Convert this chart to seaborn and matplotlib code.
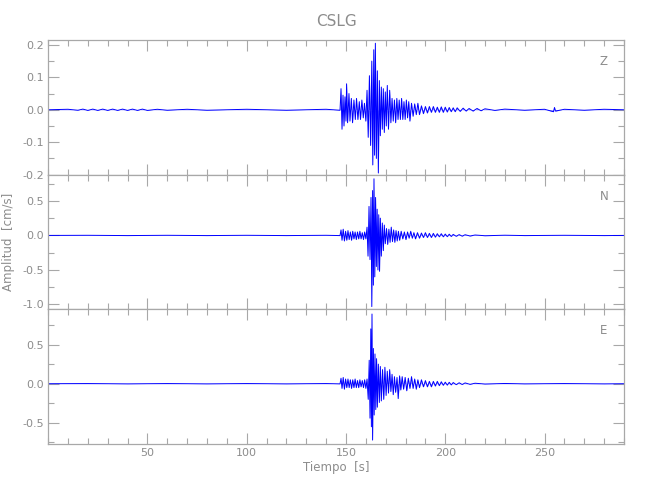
import numpy as np
import pandas as pd
import matplotlib
matplotlib.use("Agg")
import matplotlib.pyplot as plt
import seaborn as sns
from matplotlib.ticker import MultipleLocator

# station + components
station = "CSLG"
components = ["Z", "N", "E"]

# Z component: times [s] and peak amplitudes [cm/s]
z_time = [0, 10, 15, 17.5, 20, 22.5, 25, 27.5, 30, 32.5, 35, 37.5, 40, 42.5, 45, 47.5, 50, 55, 60, 70, 80, 100, 120, 140, 147,
          147.5, 148.0, 148.5, 149.0, 149.5, 150.0, 150.3, 150.8, 151.5, 152.0, 152.7, 153.3,
          154.0, 154.7, 155.3, 156.0, 156.7, 157.3, 158.0, 158.7, 159.3, 160.0, 160.6, 161.2,
          161.8, 162.4, 163.0, 163.5, 164.0, 164.4, 164.8, 165.3, 165.8, 166.3, 166.8, 167.3,
          167.8, 168.3, 168.8, 169.3, 169.8, 170.3, 170.8, 171.4, 172.0, 172.6, 173.2, 173.8,
          174.4, 175.0, 175.6, 176.2, 176.8, 177.4, 178.0, 178.6, 179.2, 179.8, 180.4, 181.0,
          181.6, 182.2, 183.0, 183.8, 184.6, 185.4, 186.2, 187.0, 188.0, 189.0, 190.0, 191.0,
          192.0, 193.0, 194.0, 195.0, 196.0, 197.0, 198.0, 199.0, 200.0, 201.0, 202.0, 203.0,
          204.0, 205.0, 206.0, 207.5, 209.0, 210.5, 212.0, 214.0, 216.0, 218.0, 220.0, 225.0,
          230.0, 240.0, 250.0, 254.5, 255.0, 255.5, 260.0, 270.0, 280.0, 290.0]
z_amp = [0, 0.0015, -0.0015, 0.002, -0.002, 0.002, -0.002, 0.002, -0.002, 0.002, -0.002, 0.002, -0.002, 0.002, -0.002, 0.002, -0.002, 0.0015, -0.0015, 0.0015, -0.0015, 0.0015, -0.0015, 0.0015, -0.0015,
         0.065, -0.060, 0.045, -0.050, 0.040, -0.035, 0.080, -0.040, 0.050, -0.035, 0.035, -0.040,
         0.030, -0.030, 0.035, -0.030, 0.025, -0.030, 0.030, -0.025, 0.020, -0.035, 0.060, -0.085,
         0.105, -0.110, 0.150, -0.170, 0.185, -0.140, 0.205, -0.150, 0.120, -0.195, 0.090, -0.080,
         0.070, -0.060, 0.065, -0.070, 0.055, -0.050, 0.075, -0.060, 0.060, -0.040, 0.035, -0.035,
         0.030, -0.040, 0.035, -0.030, 0.030, -0.030, 0.035, -0.030, 0.025, -0.030, 0.030, -0.025,
         0.025, -0.035, 0.020, -0.020, 0.018, -0.015, 0.020, -0.015, 0.012, -0.012, 0.010, -0.010,
         0.010, -0.008, 0.010, -0.008, 0.008, -0.008, 0.009, -0.008, 0.008, -0.007, 0.007, -0.006,
         0.006, -0.006, 0.006, -0.005, 0.005, -0.004, 0.004, -0.004, 0.004, -0.003, 0.003, -0.002,
         0.002, -0.0015, 0.0015, -0.006, 0.007, -0.004, 0.0015, -0.0015, 0.0015, 0]

# N component
n_time = [0, 20, 40, 60, 80, 100, 120, 140, 147,
          147.5, 148.0, 148.6, 149.2, 149.8, 150.4, 151.0, 151.6, 152.2, 152.8, 153.4, 154.0,
          154.6, 155.2, 155.8, 156.4, 157.0, 157.6, 158.2, 158.8, 159.4, 160.0, 160.6, 161.1,
          161.6, 162.1, 162.6, 163.0, 163.4, 163.8, 164.1, 164.5, 164.9, 165.3, 165.7, 166.1,
          166.5, 166.9, 167.3, 167.8, 168.3, 168.8, 169.3, 169.8, 170.4, 171.0, 171.6, 172.2,
          172.8, 173.4, 174.0, 174.6, 175.2, 175.8, 176.4, 177.0, 177.8, 178.6, 179.4, 180.2,
          181.0, 181.8, 182.6, 183.4, 184.2, 185.0, 186.0, 187.0, 188.0, 189.0, 190.0, 191.0,
          192.0, 193.0, 194.0, 195.0, 196.0, 197.0, 198.0, 199.0, 200.0, 201.0, 202.0, 203.0,
          204.0, 205.5, 207.0, 208.5, 210.0, 212.5, 215.0, 220.0, 230.0, 240.0, 260.0, 280.0, 290.0]
n_amp = [0, 0.002, -0.002, 0.002, -0.002, 0.002, -0.002, 0.002, -0.002,
         0.08, -0.07, 0.09, -0.08, 0.06, -0.07, 0.07, -0.06, 0.05, -0.07, 0.06, -0.05,
         0.05, -0.06, 0.05, -0.05, 0.06, -0.05, 0.04, -0.06, 0.05, -0.05, 0.12, -0.30,
         0.42, -0.35, 0.55, -1.03, 0.65, -0.72, 0.82, -0.60, 0.55, -0.45, 0.38, -0.50,
         0.30, -0.52, 0.25, -0.30, 0.18, -0.22, 0.15, -0.12, 0.10, -0.13, 0.09, -0.10,
         0.12, -0.09, 0.08, -0.10, 0.07, -0.08, 0.06, -0.07, 0.06, -0.05, 0.05, -0.06,
         0.05, -0.04, 0.06, -0.04, 0.04, -0.05, 0.04, -0.04, 0.035, -0.03, 0.04, -0.03,
         0.03, -0.03, 0.03, -0.025, 0.025, -0.02, 0.025, -0.02, 0.02, -0.018, 0.018, -0.015,
         0.015, -0.012, 0.012, -0.010, 0.010, -0.008, 0.006, -0.004, 0.003, -0.002, 0.002, -0.002, 0]

# E component
e_time = [0, 20, 40, 60, 80, 100, 120, 140, 147,
          147.5, 148.0, 148.6, 149.2, 149.8, 150.4, 151.0, 151.6, 152.2, 152.8, 153.4, 154.0,
          154.6, 155.2, 155.8, 156.4, 157.0, 157.6, 158.2, 158.8, 159.4, 160.0, 160.6, 161.2,
          161.7, 162.1, 162.5, 162.8, 163.1, 163.4, 163.8, 164.2, 164.6, 165.0, 165.4, 165.8,
          166.3, 166.8, 167.3, 167.8, 168.4, 169.0, 169.6, 170.2, 170.8, 171.4, 172.0, 172.6,
          173.2, 173.8, 174.4, 175.0, 175.7, 176.3, 177.0, 177.6, 178.3, 179.0, 179.8, 180.6,
          181.4, 182.2, 183.0, 183.8, 184.6, 185.4, 186.2, 187.0, 188.0, 189.0, 190.0, 191.0,
          192.0, 193.0, 194.0, 195.0, 196.0, 197.0, 198.0, 199.0, 200.0, 201.0, 202.0, 203.0,
          204.0, 205.5, 207.0, 208.5, 210.0, 212.5, 215.0, 220.0, 230.0, 240.0, 260.0, 280.0, 290.0]
e_amp = [0, 0.002, -0.002, 0.002, -0.002, 0.002, -0.002, 0.002, -0.002,
         0.07, -0.06, 0.08, -0.07, 0.06, -0.05, 0.06, -0.05, 0.05, -0.06, 0.05, -0.05,
         0.06, -0.05, 0.04, -0.05, 0.05, -0.04, 0.04, -0.05, 0.05, -0.06, 0.06, -0.20,
         0.30, -0.44, 0.70, -0.55, 0.89, -0.72, 0.45, -0.40, 0.38, -0.33, 0.32, -0.30,
         0.25, -0.24, 0.22, -0.22, 0.18, -0.20, 0.21, -0.15, 0.16, -0.12, 0.18, -0.10,
         0.12, -0.14, 0.09, -0.11, 0.08, -0.19, 0.10, -0.08, 0.09, -0.07, 0.08, -0.09,
         0.07, -0.06, 0.09, -0.06, 0.06, -0.07, 0.05, -0.05, 0.05, -0.04, 0.04, -0.04,
         0.03, -0.04, 0.03, -0.03, 0.03, -0.025, 0.025, -0.02, 0.02, -0.018, 0.018, -0.015,
         0.015, -0.012, 0.012, -0.010, 0.010, -0.008, 0.006, -0.004, 0.003, -0.002, 0.002, -0.002, 0]

# axis limits per panel
y_limits = [(-0.2, 0.215), (-1.07, 0.88), (-0.77, 0.95)]
y_major = [0.1, 0.5, 0.5]
y_minor = [0.05, 0.25, 0.25]

traces = [(z_time, z_amp), (n_time, n_amp), (e_time, e_amp)]

sns.set_style("ticks")
plt.rcParams['font.family'] = ['DejaVu Sans']
plt.rcParams['axes.unicode_minus'] = False
grey = '#8c8c8c'
spine_grey = '#a8a8a8'

fig, axes = plt.subplots(3, 1, figsize=(6.5, 5), dpi=100, sharex=True)
fig.subplots_adjust(left=0.074, right=0.96, top=0.92, bottom=0.112, hspace=0)

for ax, comp, (t, a), ylim, maj, mnr in zip(axes, components, traces, y_limits, y_major, y_minor):
    df = pd.DataFrame({'t': t, 'amp': a})
    # light fill under the zigzag to get the dense look of the raw trace
    ax.fill_between(df['t'], df['amp'], 0, color='#0000ff', alpha=0.45, linewidth=0)
    sns.lineplot(data=df, x='t', y='amp', ax=ax, sort=False, estimator=None,
                 color='#0000ff', linewidth=0.7)
    ax.set_xlim(0, 290)
    ax.set_ylim(*ylim)
    ax.xaxis.set_major_locator(MultipleLocator(50))
    ax.xaxis.set_minor_locator(MultipleLocator(10))
    ax.yaxis.set_major_locator(MultipleLocator(maj))
    ax.yaxis.set_minor_locator(MultipleLocator(mnr))
    ax.tick_params(which='both', direction='in', top=True, right=True,
                   color=spine_grey, labelcolor=grey, labelsize=8, width=0.8, pad=3)
    ax.tick_params(which='major', length=8)
    ax.tick_params(which='minor', length=4)
    for sp in ax.spines.values():
        sp.set_color(spine_grey)
        sp.set_linewidth(0.9)
    ax.set_xlabel('')
    ax.set_ylabel('')
    ax.text(0.965, 0.84, comp, transform=ax.transAxes, ha='center', va='center',
            color=grey, fontsize=8.5)

axes[0].set_title(station, color=grey, fontsize=11, pad=10)
axes[1].set_ylabel('Amplitud  [cm/s]', color=grey, fontsize=8.5)
axes[1].yaxis.set_label_coords(-0.058, 0.5)
axes[2].set_xlabel('Tiempo  [s]', color=grey, fontsize=8.5, labelpad=2)
axes[2].set_xticks([50, 100, 150, 200, 250])

plt.savefig("out.png", dpi=100)
plt.close()
